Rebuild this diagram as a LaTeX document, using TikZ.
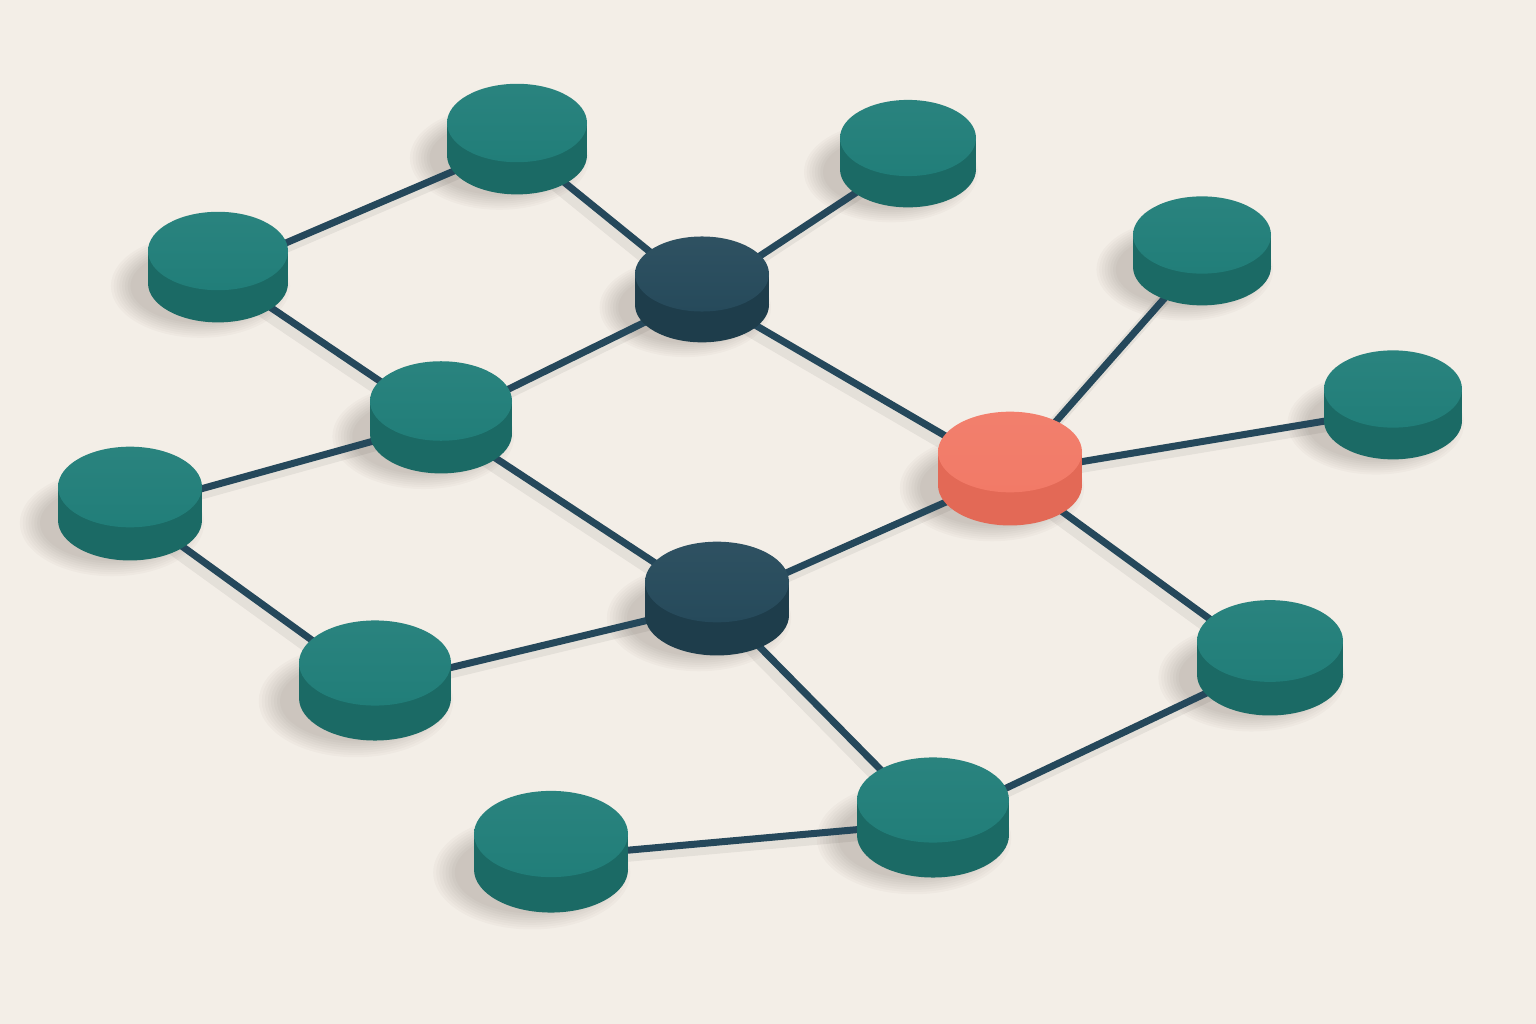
\documentclass[tikz,border=0pt]{standalone}
\usepackage{tikz}
\definecolor{paper}{HTML}{F3EEE7}
\definecolor{tealtop}{HTML}{217E79}
\definecolor{tealside}{HTML}{1B6A65}
\definecolor{navytop}{HTML}{264A5B}
\definecolor{navyside}{HTML}{1E3D4B}
\definecolor{coraltop}{HTML}{F27A67}
\definecolor{coralside}{HTML}{E36956}
\definecolor{wire}{HTML}{25485B}
\tikzset{
  link/.style={line width=7pt, draw=wire, line cap=round},
  linkshadow/.style={line width=12pt, draw=black, opacity=0.06, line cap=round},
  puckshadow/.style={fill=black!80!brown, opacity=0.025}
}

\begin{document}
\begin{tikzpicture}[x=1pt, y=-1pt]
  % Ground
  \fill[paper] (0,0) rectangle (1536,1024);
  \useasboundingbox (0,0) rectangle (1536,1024);

  % Hubs: name/x/y/radius/tone
  \def\hubs{A/517/123/70/teal, B/908/138/68/teal, C/218/251/70/teal,
    D/702/274/67/navy, E/1202/235/69/teal, F/441/401/71/teal,
    G/1393/389/69/teal, H/1010/452/72/coral, I/130/487/72/teal,
    J/717/582/72/navy, K/1270/641/73/teal, L/375/663/76/teal,
    M/933/800/76/teal, N/551/834/77/teal}

  % Anchor points
  \foreach \n/\cx/\cy/\r/\tone in \hubs
    \coordinate (\n) at (\cx, \cy+0.3*\r);

  % Soft shadows
  \foreach \n/\cx/\cy/\r/\tone in \hubs {
    \foreach \k in {0,...,7}
      \fill[puckshadow] (\cx-0.25*\r, \cy+0.5*\r)
        ellipse [x radius={\r*(1.28-0.04*\k)}, y radius={\r*(0.74-0.03*\k)}];
  }

  % Connections
  \foreach \a/\b in {A/C, A/D, B/D, C/F, D/F, D/H, E/H, G/H, F/I, F/J,
                     H/J, H/K, I/L, L/J, J/M, K/M, M/N} {
    \draw[linkshadow] ([shift={(-5,6)}]\a) -- ([shift={(-5,6)}]\b);
    \draw[link] (\a) -- (\b);
  }

  % Pucks
  \foreach \n/\cx/\cy/\r/\tone in \hubs {
    \pgfmathsetmacro\pry{0.56*\r}
    \pgfmathsetmacro\pth{0.46*\r}
    \fill[\tone side] (\cx-\r, \cy) rectangle (\cx+\r, \cy+\pth);
    \fill[\tone side] (\cx, \cy+\pth) ellipse [x radius=\r, y radius=\pry];
    \shade[top color=\tone top!96!white, bottom color=\tone top]
      (\cx, \cy) ellipse [x radius=\r, y radius=\pry];
  }
\end{tikzpicture}
\end{document}
